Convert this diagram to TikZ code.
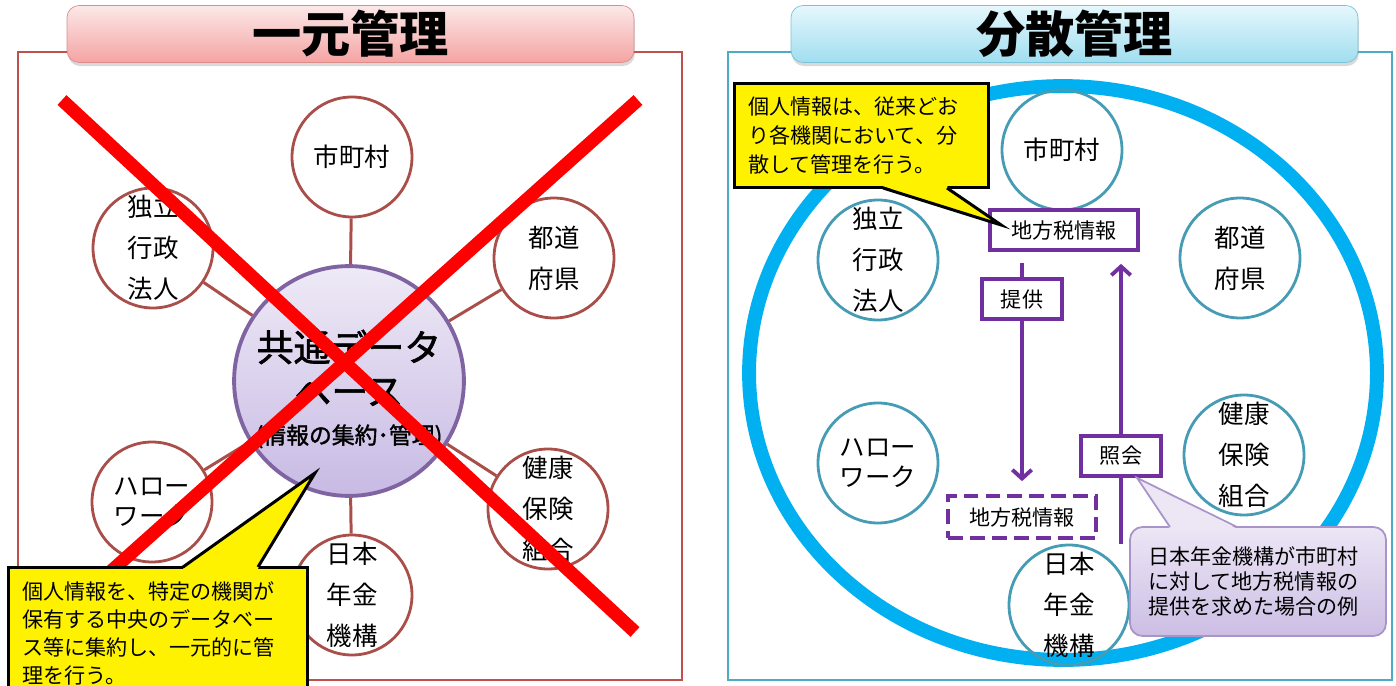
\documentclass[tikz,border=0pt]{standalone}
\usepackage{fontspec}
\setmainfont{Noto Sans CJK JP}
\newfontfamily\dbfont{Noto Sans CJK JP}[FakeBold=1.6]
\usetikzlibrary{positioning,arrows.meta,shadows,backgrounds}

\definecolor{redframe}{RGB}{192,80,77}
\definecolor{brownline}{RGB}{170,78,74}
\definecolor{pinkline}{RGB}{222,140,138}
\definecolor{pinktop}{RGB}{252,232,232}
\definecolor{pinkbot}{RGB}{244,164,163}
\definecolor{cyanline}{RGB}{120,195,215}
\definecolor{cyantop}{RGB}{230,247,252}
\definecolor{cyanbot}{RGB}{160,222,240}
\definecolor{dbborder}{RGB}{128,100,162}
\definecolor{dbtop}{RGB}{238,234,246}
\definecolor{dbbot}{RGB}{200,186,228}
\definecolor{blueframe}{RGB}{75,172,198}
\definecolor{ringblue}{RGB}{0,176,240}
\definecolor{tealline}{RGB}{70,156,180}
\definecolor{boxpurple}{RGB}{112,48,160}
\definecolor{notetop}{RGB}{236,230,245}
\definecolor{notebot}{RGB}{204,190,228}
\definecolor{noteline}{RGB}{168,148,200}

\begin{document}
\begin{tikzpicture}[x=0.02cm, y=-0.02cm,
    every node/.style={align=center, inner sep=0pt},
    title/.style={rounded corners=0.24cm, minimum width=11.34cm, minimum height=1.14cm,
      font=\fontsize{28}{32}\selectfont\bfseries,
      drop shadow={shadow xshift=0.5pt, shadow yshift=-2pt, opacity=0.3}},
    sat/.style={circle, line width=1.6pt, minimum size=2.4cm, font=\fontsize{14.5}{23.2}\selectfont},
    lsat/.style={draw=brownline, fill=white},
    rsat/.style={draw=tealline},
    kana/.style={font=\fontsize{14.5}{17}\selectfont},
    link/.style={brownline, line width=1.7pt},
    cross/.style={red, line width=7.5pt},
    note/.style={draw=black, line width=1.7pt, fill=yellow, outer sep=0pt, align=left,
      inner xsep=0.27cm, font=\fontsize{12}{15.9}\selectfont},
    example/.style={draw=noteline, line width=1pt, rounded corners=0.25cm, outer sep=0pt,
      top color=notetop, bottom color=notebot, align=left, inner xsep=0.36cm,
      font=\fontsize{12}{14.2}\selectfont},
    infobox/.style={draw=boxpurple, line width=2.1pt, fill=white, minimum height=0.8cm,
      font=\fontsize{12}{14}\selectfont},
    flow/.style={boxpurple, line width=2.2pt, -{Straight Barb[length=5pt, width=11pt]}}]

    \useasboundingbox (0,0) rectangle (1396,686);

    % frames and titles
    \draw[redframe, line width=1.6pt] (18,52) rectangle (682,680);
    \draw[blueframe, line width=1.6pt] (728,52) rectangle (1392,680);
    \node (lefttitle) [title, draw=pinkline, top color=pinktop, bottom color=pinkbot] at (350.5,34) {一元管理};
    \node (righttitle) [title, draw=cyanline, top color=cyantop, bottom color=cyanbot] at (1074.5,34) {分散管理};

    % left: central database
    \node (db) [circle, draw=dbborder, line width=2.2pt, top color=dbtop, bottom color=dbbot,
      minimum size=4.56cm, font=\dbfont\fontsize{21}{25}\selectfont] at (349,381)
      {\rule{0pt}{27pt}共通データ\\ベース\\[-3pt]{\fontsize{13}{16}\selectfont (情報の集約･管理)}};
    \node (lcity) [sat, lsat] at (352,157) {市町村};
    \node (lagency) [sat, lsat] at (153,248) {独立\\行政\\法人};
    \node (lpref) [sat, lsat] at (554,258) {都道\\府県};
    \node (lhello) [sat, lsat, kana] at (152,502) {ハロー\\ワーク};
    \node (lhealth) [sat, lsat] at (548,509) {健康\\保険\\組合};
    \node (lpension) [sat, lsat] at (352,595) {日本\\年金\\機構};

    \draw[link] (db) -- (lcity);
    \draw[link] (db) -- (lagency);
    \draw[link] (db) -- (lpref);
    \draw[link] (db) -- (lhello);
    \draw[link] (db) -- (lhealth);
    \draw[link] (db) -- (lpension);

    \draw[cross] (62,100) -- (635,632);
    \draw[cross] (638,100) -- (62,615);

    \node (lnote) [note, text width=5.44cm, minimum height=2.66cm] at (158,633.5)
      {個人情報を、特定の機関が\\保有する中央のデータベー\\ス等に集約し、一元的に管\\理を行う。};
    \fill[yellow] ([xshift=0.5cm, yshift=-1pt]lnote.north) -- ([shift={(-34,92)}]db.center)
      -- ([xshift=2cm, yshift=-1pt]lnote.north) -- cycle;
    \draw[line width=1.7pt] ([xshift=0.5cm]lnote.north) -- ([shift={(-34,92)}]db.center)
      -- ([xshift=2cm]lnote.north);

    % right: distributed
    \draw[ringblue, line width=7.9pt] (1063,373) ellipse [x radius=6.28cm, y radius=5.74cm];
    \node (rcity) [sat, rsat] at (1062,150) {市町村};
    \node (ragency) [sat, rsat] at (878,260) {独立\\行政\\法人};
    \node (rpref) [sat, rsat] at (1240,258) {都道\\府県};
    \node (rhello) [sat, rsat, kana] at (878,463) {ハロー\\ワーク};
    \node (rhealth) [sat, rsat] at (1244,455) {健康\\保険\\組合};
    \node (rpension) [sat, rsat] at (1069,605) {日本\\年金\\機構};

    \node (taxtop) [infobox, minimum width=2.96cm] at (1064,230) {地方税情報};
    \node (provide) [infobox, minimum width=1.6cm] at (1022,299) {提供};
    \node (inquiry) [infobox, minimum width=1.6cm] at (1121,456) {照会};
    \node (taxcopy) [infobox, dash pattern=on 8.5pt off 4pt, minimum width=2.96cm,
      minimum height=0.84cm] at (1022,517) {地方税情報};

    \begin{scope}[on background layer]
      \draw[flow, shorten <=0.22cm, shorten >=0.26cm] (taxtop.south -| provide) -- (taxcopy.north -| provide);
      \draw[flow, shorten >=0.24cm] (rpension.north -| inquiry) -- (taxtop.south -| inquiry);
    \end{scope}

    \node (exnote) [example, text width=4.4cm, minimum height=2.18cm] at (1258,581.5)
      {日本年金機構が市町村\\に対して地方税情報の\\提供を求めた場合の例};
    \fill[notetop] ([xshift=-1.76cm, yshift=-1pt]exnote.north) -- ([xshift=0.32cm]inquiry.south)
      -- ([xshift=-0.42cm, yshift=-1pt]exnote.north) -- cycle;
    \draw[noteline, line width=1pt] ([xshift=-1.76cm]exnote.north) -- ([xshift=0.32cm]inquiry.south)
      -- ([xshift=-0.42cm]exnote.north);

    \node (rnote) [note, font=\fontsize{12}{16.4}\selectfont, text width=4.54cm, minimum height=2.1cm] at (861.5,135.5)
      {個人情報は、従来どお\\り各機関において、分\\散して管理を行う。};
    \fill[yellow] ([xshift=0.43cm, yshift=1pt]rnote.south) -- ([shift={(13,-5)}]taxtop.west)
      -- ([xshift=1.71cm, yshift=1pt]rnote.south) -- cycle;
    \draw[line width=1.7pt] ([xshift=0.43cm]rnote.south) -- ([shift={(13,-5)}]taxtop.west)
      -- ([xshift=1.71cm]rnote.south);
\end{tikzpicture}
\end{document}
